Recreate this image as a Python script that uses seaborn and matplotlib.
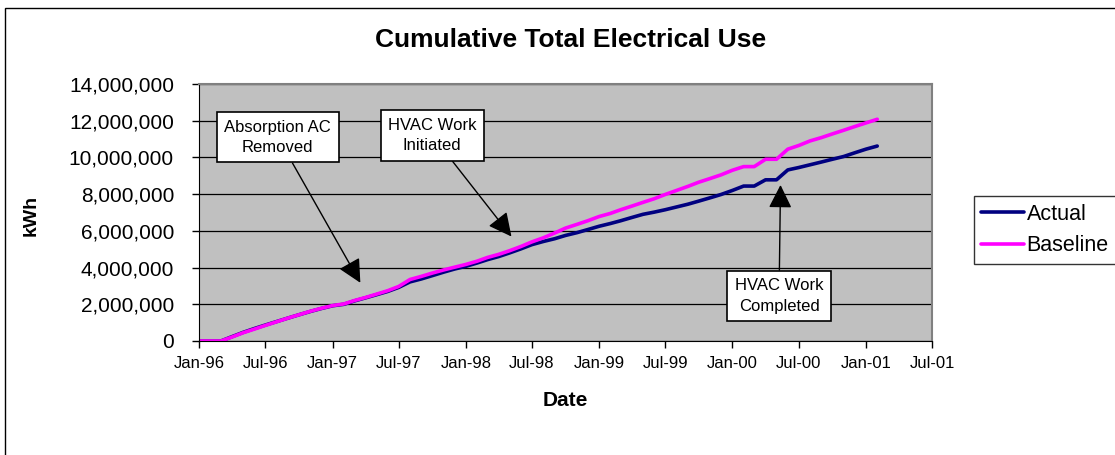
import numpy as np
import matplotlib
matplotlib.use("Agg")
import matplotlib.pyplot as plt
import matplotlib.dates as mdates
import matplotlib.patches as patches
import pandas as pd
import seaborn as sns

# monthly cumulative kWh, Jan-96 .. Feb-01 (in millions)
months = pd.date_range("1996-01-01", periods=62, freq="MS")
baseline = [0, 0, 0, 0.22, 0.45, 0.65, 0.85, 1.05, 1.25, 1.43, 1.62, 1.78,
            1.93, 2.02, 2.20, 2.37, 2.55, 2.74, 2.97, 3.35, 3.52, 3.70, 3.87, 4.02,
            4.17, 4.35, 4.55, 4.72, 4.92, 5.15, 5.40, 5.62, 5.88, 6.15, 6.35, 6.55,
            6.78, 6.95, 7.15, 7.35, 7.55, 7.75, 7.98, 8.20, 8.42, 8.65, 8.85, 9.05,
            9.30, 9.50, 9.50, 9.90, 9.90, 10.45, 10.65, 10.90, 11.08, 11.28, 11.48, 11.68,
            11.88, 12.08]
actual = [0, 0, 0, 0.24, 0.47, 0.68, 0.87, 1.06, 1.25, 1.43, 1.61, 1.77,
          1.92, 2.00, 2.18, 2.35, 2.52, 2.70, 2.92, 3.22, 3.38, 3.56, 3.75, 3.92,
          4.07, 4.25, 4.43, 4.60, 4.80, 5.02, 5.25, 5.42, 5.57, 5.75, 5.90, 6.07,
          6.25, 6.40, 6.55, 6.73, 6.90, 7.02, 7.15, 7.30, 7.45, 7.62, 7.80, 7.98,
          8.20, 8.44, 8.44, 8.78, 8.78, 9.32, 9.45, 9.60, 9.75, 9.90, 10.05, 10.25,
          10.45, 10.62]

df = pd.DataFrame({"Date": list(months) * 2,
                   "kWh": np.array(actual + baseline) * 1e6,
                   "series": ["Actual"] * 62 + ["Baseline"] * 62})

sns.set_style("white")
plt.rcParams["font.family"] = ["Liberation Sans", "DejaVu Sans"]
plt.rcParams.update({"text.color": "black", "axes.labelcolor": "black",
                     "xtick.color": "black", "ytick.color": "black"})

fig = plt.figure(figsize=(11.15, 4.55), dpi=100)
ax = fig.add_axes([199 / 1115, 1 - 341 / 455, 733 / 1115, 257 / 455])
ax.set_facecolor("#C0C0C0")

sns.lineplot(data=df, x="Date", y="kWh", hue="series", ax=ax,
             palette={"Actual": "#000080", "Baseline": "#FF00FF"},
             linewidth=2.6, legend=False)

ax.set_xlim(pd.Timestamp("1996-01-01"), pd.Timestamp("2001-07-01"))
ax.set_ylim(0, 14e6)
ax.set_yticks(np.arange(0, 14e6 + 1, 2e6))
ax.yaxis.set_major_formatter(plt.FuncFormatter(lambda v, _: f"{v:,.0f}"))
ax.xaxis.set_major_locator(mdates.MonthLocator(bymonth=[1, 7]))
ax.xaxis.set_major_formatter(mdates.DateFormatter("%b-%y"))
ax.grid(axis="y", color="black", linewidth=0.9)
ax.grid(axis="x", visible=False)
ax.tick_params(axis="y", labelsize=15, length=5, width=1, direction="out", left=True, pad=13)
ax.tick_params(axis="x", labelsize=12, length=5, width=1, direction="out", bottom=True, pad=6)
for s in ["left", "bottom"]:
    ax.spines[s].set_color("black")
for s in ["top", "right"]:
    ax.spines[s].set_color("#808080")
    ax.spines[s].set_linewidth(1.5)

ax.set_xlabel("Date", fontsize=15, fontweight="bold")
ax.set_ylabel("kWh", fontsize=14, fontweight="bold")
ax.xaxis.set_label_coords(0.5, -0.195)
ax.yaxis.set_label_coords(-0.218, 0.49)

fig.text(571 / 1115, 1 - 40 / 455, "Cumulative Total Electrical Use",
         ha="center", va="center", fontsize=19, fontweight="bold")

# callouts
box = dict(boxstyle="square,pad=0.45", fc="white", ec="black", lw=1.2)
arrow = dict(arrowstyle="-|>,head_length=0.9,head_width=0.45", mutation_scale=16,
             color="black", lw=1, shrinkA=0, shrinkB=0)
notes = [("Absorption AC\nRemoved", "1997-03-18", 3.17e6, "1996-08-04", 11.1e6),
         ("HVAC Work\nInitiated", "1998-05-06", 5.69e6, "1997-10-01", 11.2e6),
         ("HVAC Work\nCompleted", "2000-05-12", 8.5e6, "2000-05-08", 2.45e6)]
for txt, tx, ty, bx, by in notes:
    ax.annotate(txt, xy=(mdates.date2num(pd.Timestamp(tx)), ty),
                xytext=(mdates.date2num(pd.Timestamp(bx)), by),
                ha="center", va="center", fontsize=12, linespacing=1.45,
                bbox=box, arrowprops=arrow)

handles = [plt.Line2D([], [], color="#000080", lw=2.6),
           plt.Line2D([], [], color="#FF00FF", lw=2.6)]
leg = fig.legend(handles, ["Actual", "Baseline"], loc="center",
                 bbox_to_anchor=(1045 / 1115, 1 - 230 / 455), fontsize=15.5,
                 frameon=True, fancybox=False, edgecolor="black",
                 handlelength=2.0, handletextpad=0.1, borderpad=0.35,
                 labelspacing=0.5, borderaxespad=0)
leg.get_frame().set_linewidth(1)

fig.patches.append(patches.Rectangle((5 / 1115, -0.1), 1.2, 1 - 8 / 455 + 0.1,
                                     transform=fig.transFigure, fill=False,
                                     ec="black", lw=1))

fig.savefig("out.png", dpi=100)
